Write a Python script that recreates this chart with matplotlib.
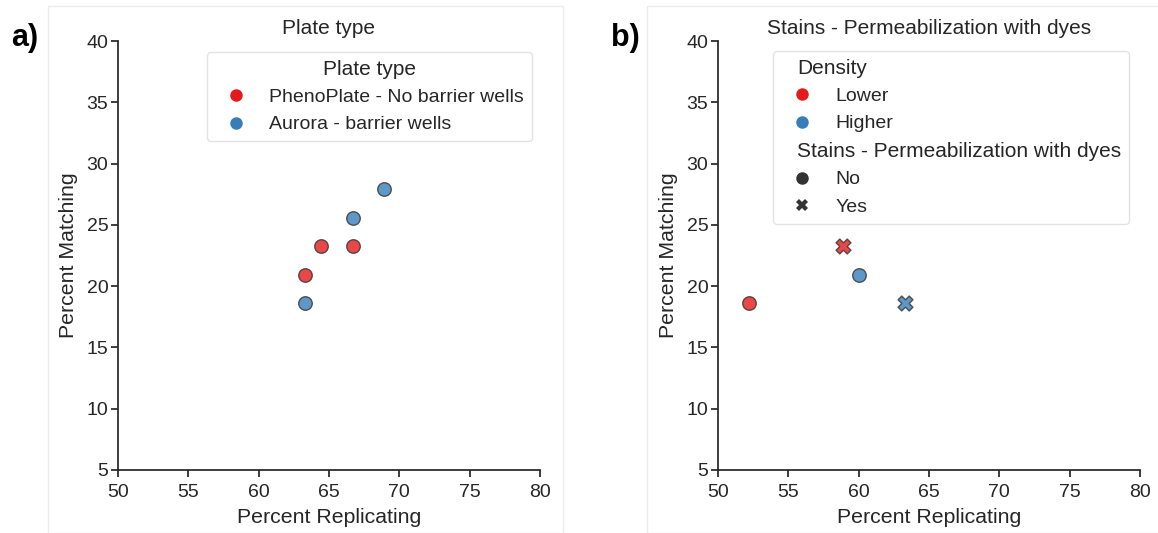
import matplotlib
matplotlib.use("Agg")
import matplotlib.pyplot as plt
from matplotlib.lines import Line2D
from matplotlib.patches import Rectangle

plt.rcParams['font.family'] = ['Liberation Sans', 'DejaVu Sans']

# ---- data ----
# Panel a: plate type
a_replicating = [63.3, 64.4, 66.7, 63.3, 66.7, 68.9]
a_matching = [20.93, 23.26, 23.26, 18.60, 25.58, 27.91]
a_plate = ["PhenoPlate - No barrier wells", "PhenoPlate - No barrier wells",
           "PhenoPlate - No barrier wells", "Aurora - barrier wells",
           "Aurora - barrier wells", "Aurora - barrier wells"]
a_categories = ["PhenoPlate - No barrier wells", "Aurora - barrier wells"]

# Panel b: density & permeabilization
b_replicating = [52.2, 58.9, 60.0, 63.3]
b_matching = [18.60, 23.26, 20.93, 18.60]
b_density = ["Lower", "Lower", "Higher", "Higher"]
b_perm = ["No", "Yes", "No", "Yes"]
b_density_levels = ["Lower", "Higher"]
b_perm_levels = ["No", "Yes"]

x_ticks = [50, 55, 60, 65, 70, 75, 80]
y_ticks = [5, 10, 15, 20, 25, 30, 35, 40]

# ---- style ----
RED = "#e41a1c"
BLUE = "#377eb8"
colors_a = {a_categories[0]: RED, a_categories[1]: BLUE}
colors_b = {"Lower": RED, "Higher": BLUE}
markers_b = {"No": "o", "Yes": "X"}
TEXT = "#262626"
EDGE = "#333333"
LEG_FS = 14
SUB_FS = 15

fig = plt.figure(figsize=(11.58, 5.33), dpi=100)
W, H = 1158, 533

# panel frames
fig.patches.append(Rectangle((48 / W, 0), (563 - 48) / W, 1 - 6 / H,
                             transform=fig.transFigure, fill=False,
                             edgecolor="#ececec", linewidth=1.0))
fig.patches.append(Rectangle((647 / W, 0), (W + 5 - 647) / W, 1 - 6 / H,
                             transform=fig.transFigure, fill=False,
                             edgecolor="#ececec", linewidth=1.0))

ax_a = fig.add_axes([118 / W, 1 - 470 / H, (540 - 118) / W, (470 - 41) / H])
ax_b = fig.add_axes([718 / W, 1 - 470 / H, (1140 - 718) / W, (470 - 41) / H])


def style_axes(ax, title):
    ax.set_xlim(50, 80)
    ax.set_ylim(5, 40)
    ax.set_xticks(x_ticks)
    ax.set_yticks(y_ticks)
    for s in ["top", "right"]:
        ax.spines[s].set_visible(False)
    for s in ["left", "bottom"]:
        ax.spines[s].set_color(TEXT)
        ax.spines[s].set_linewidth(1.25)
    ax.tick_params(axis="both", labelsize=14, colors=TEXT, length=5, width=1.25)
    ax.tick_params(axis="x", pad=5)
    ax.tick_params(axis="y", pad=2)
    ax.set_xlabel("Percent Replicating", fontsize=15.3, color=TEXT, labelpad=5)
    ax.set_ylabel("Percent Matching", fontsize=15.3, color=TEXT, labelpad=6)
    ax.set_title(title, fontsize=15, color=TEXT, pad=5)


def legend_style(leg):
    leg.get_frame().set_edgecolor("#dddddd")
    leg.get_frame().set_linewidth(1.0)
    for t in leg.get_texts():
        t.set_color(TEXT)
    if leg.get_title() is not None:
        leg.get_title().set_color(TEXT)


# Panel a
for cat in a_categories:
    xs = [x for x, c in zip(a_replicating, a_plate) if c == cat]
    ys = [y for y, c in zip(a_matching, a_plate) if c == cat]
    ax_a.scatter(xs, ys, s=95, c=colors_a[cat], alpha=0.8,
                 edgecolors=EDGE, linewidths=1.0, zorder=3)
style_axes(ax_a, "Plate type")
handles_a = [Line2D([], [], marker="o", linestyle="", markersize=9,
                    markerfacecolor=colors_a[c], markeredgewidth=0)
             for c in a_categories]
leg_a = ax_a.legend(handles_a, a_categories, title="Plate type",
                    loc="upper left", bbox_to_anchor=((207 - 118) / 422, (470 - 52) / 429),
                    fontsize=LEG_FS, title_fontsize=15, frameon=True,
                    handlelength=2.2, handletextpad=0.6, labelspacing=0.5,
                    borderpad=0.4, borderaxespad=0)
legend_style(leg_a)

# Panel b
for d in b_density_levels:
    for p in b_perm_levels:
        xs = [x for x, dd, pp in zip(b_replicating, b_density, b_perm) if dd == d and pp == p]
        ys = [y for y, dd, pp in zip(b_matching, b_density, b_perm) if dd == d and pp == p]
        if xs:
            ax_b.scatter(xs, ys, s=95 if p == "No" else 115, c=colors_b[d],
                         marker=markers_b[p], alpha=0.8,
                         edgecolors=EDGE, linewidths=1.0, zorder=3)
style_axes(ax_b, "Stains - Permeabilization with dyes")

empty = Line2D([], [], linestyle="", marker="")
handles_b = [empty]
handles_b += [Line2D([], [], marker="o", linestyle="", markersize=9,
                     markerfacecolor=colors_b[d], markeredgewidth=0)
              for d in b_density_levels]
handles_b += [empty]
handles_b += [Line2D([], [], marker=markers_b[p], linestyle="", markersize=9,
                     markerfacecolor=EDGE, markeredgewidth=0)
              for p in b_perm_levels]
subtitles_b = ["Density", "Stains - Permeabilization with dyes"]
labels_b = [subtitles_b[0]] + b_density_levels + [subtitles_b[1]] + b_perm_levels
leg_b = ax_b.legend(handles_b, labels_b, loc="upper left",
                    bbox_to_anchor=((773 - 718) / 422, (470 - 51) / 429),
                    fontsize=LEG_FS, frameon=True,
                    handlelength=2.2, handletextpad=0.6, labelspacing=0.5,
                    borderpad=0.4, borderaxespad=0)
legend_style(leg_b)
# subtitle entries: no handle, larger font, text shifted left
for vpack in leg_b._legend_handle_box.get_children():
    for hpack in vpack.get_children():
        da, ta = hpack.get_children()
        t = ta.get_children()[0]
        if t.get_text() in subtitles_b:
            t.set_fontsize(SUB_FS)
            da.set_width(0)
            hpack.sep = 12

fig.text(11 / W, 1 - 38 / H, "a)", fontsize=22, fontweight="bold", va="center", ha="left")
fig.text(611 / W, 1 - 38 / H, "b)", fontsize=22, fontweight="bold", va="center", ha="left")

fig.savefig("out.png", dpi=100)
